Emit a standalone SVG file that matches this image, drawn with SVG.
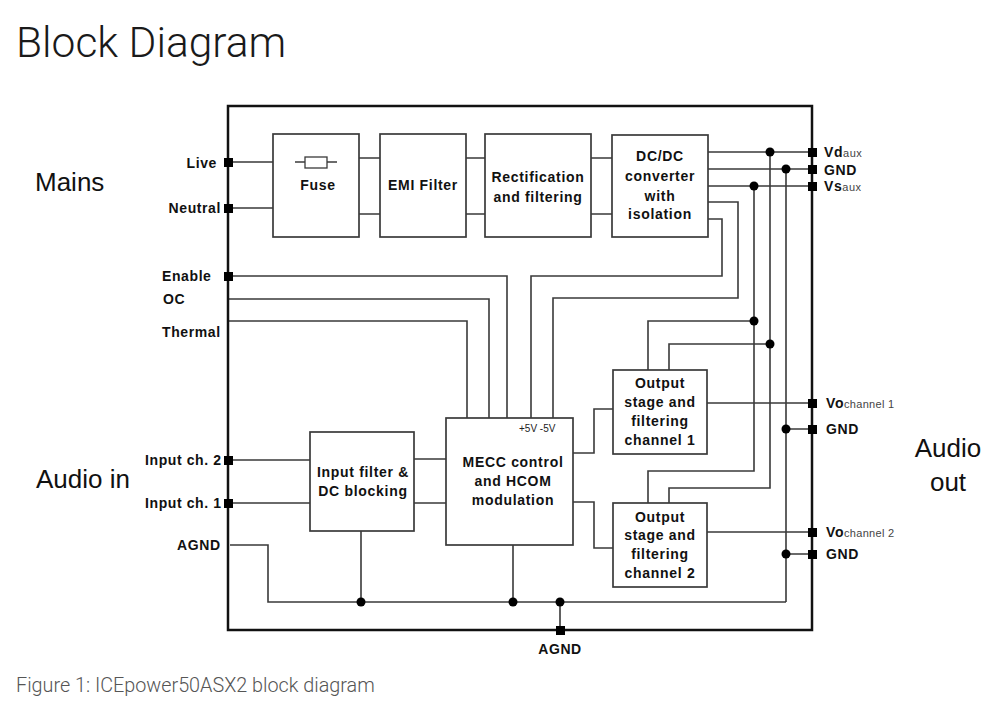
<svg xmlns="http://www.w3.org/2000/svg" width="1000" height="716" viewBox="0 0 1000 716">
<style>
.ln{fill:none;stroke:#3a3a3a;stroke-width:1.6}
.box{fill:#fff;stroke:#3a3a3a;stroke-width:1.7}
.bt{font-family:"Liberation Sans",Arial,sans-serif;font-weight:bold;font-size:14px;letter-spacing:0.7px;fill:#111;text-anchor:middle}
.lb{font-family:"Liberation Sans",Arial,sans-serif;font-weight:bold;font-size:14px;letter-spacing:0.6px;fill:#111}
.big{font-family:"Liberation Sans",Arial,sans-serif;font-size:26px;fill:#111}
.sub{font-family:"Liberation Sans",Arial,sans-serif;font-size:11px;fill:#444}
.pin{fill:#000}
.dot{fill:#000}
</style>
<rect width="1000" height="716" fill="#fff"/>
<text x="16" y="57" font-family="Roboto,'Liberation Sans',sans-serif" font-weight="300" font-size="42.5" fill="#1a1a1a">Block Diagram</text>
<text x="16" y="692" font-family="Roboto,'Liberation Sans',sans-serif" font-weight="300" font-size="19.8" fill="#555">Figure 1: ICEpower50ASX2 block diagram</text>

<text class="big" x="35" y="191">Mains</text>
<text class="big" x="36" y="488">Audio in</text>
<text class="big" x="948" y="457" text-anchor="middle">Audio</text>
<text class="big" x="948" y="491" text-anchor="middle">out</text>

<g id="connectors">
  <path class="ln" d="M228 162H273M228 208H273"/>
  <path class="ln" d="M359 158H380M359 214H380M466 158H485M466 214H485M591 158H612M591 214H612"/>
  <path class="ln" d="M708 152H812M708 169H812M708 186H812"/>
  <path class="ln" d="M708 202H738V298H553V418"/>
  <path class="ln" d="M708 219H722V276H531V418"/>
  <path class="ln" d="M228 276H507V418M228 299H489V418M228 321H467V418"/>
  <path class="ln" d="M754 186V471H648V503M770 152V488H669V503M786 169V602"/>
  <path class="ln" d="M754 321H648V370M770 344H669V370"/>
  <path class="ln" d="M228 460H310M228 503H310M414 459H446M414 503H446"/>
  <path class="ln" d="M573 453H594V409H613M573 502H594V548H613"/>
  <path class="ln" d="M707 403H812M707 532H812M786 429H812M786 554H812"/>
  <path class="ln" d="M230 545H268V602H786M361 531V602M513 545V602M560 602V630"/>
  <circle class="dot" cx="770" cy="152" r="4.5"/>
  <circle class="dot" cx="786" cy="169" r="4.5"/>
  <circle class="dot" cx="754" cy="186" r="4.5"/>
  <circle class="dot" cx="754" cy="321" r="4.5"/>
  <circle class="dot" cx="770" cy="344" r="4.5"/>
  <circle class="dot" cx="786" cy="429" r="4.5"/>
  <circle class="dot" cx="786" cy="554" r="4.5"/>
  <circle class="dot" cx="361" cy="602" r="4.5"/>
  <circle class="dot" cx="513" cy="602" r="4.5"/>
  <circle class="dot" cx="560" cy="602" r="4.5"/>
</g>

<g id="module">
  <rect x="228" y="106" width="584" height="524" fill="none" stroke="#111" stroke-width="2.5"/>
</g>

<g id="fuse">
  <rect class="box" x="273" y="134" width="86" height="103"/>
  <path class="ln" d="M295 162H337"/>
  <rect x="305" y="157" width="22" height="11" fill="#fff" stroke="#3a3a3a" stroke-width="1.3"/>
  <text class="bt" x="318" y="190">Fuse</text>
</g>
<g id="emi">
  <rect class="box" x="380" y="134" width="86" height="103"/>
  <text class="bt" x="423" y="190">EMI Filter</text>
</g>
<g id="rect">
  <rect class="box" x="485" y="134" width="106" height="103"/>
  <text class="bt" x="538" y="182">Rectification</text>
  <text class="bt" x="538" y="202">and filtering</text>
</g>
<g id="dcdc">
  <rect class="box" x="612" y="135" width="96" height="102"/>
  <text class="bt" x="660" y="161">DC/DC</text>
  <text class="bt" x="660" y="181">converter</text>
  <text class="bt" x="660" y="201">with</text>
  <text class="bt" x="660" y="219">isolation</text>
</g>
<g id="inputfilter">
  <rect class="box" x="310" y="432" width="104" height="99"/>
  <text class="bt" x="363" y="477">Input filter &amp;</text>
  <text class="bt" x="363" y="496">DC blocking</text>
</g>
<g id="mecc">
  <rect class="box" x="446" y="418" width="127" height="127"/>
  <text x="519" y="432" font-family="'Liberation Sans',Arial,sans-serif" font-size="10" fill="#222">+5V  -5V</text>
  <text class="bt" x="513" y="467">MECC control</text>
  <text class="bt" x="513" y="486">and HCOM</text>
  <text class="bt" x="513" y="505">modulation</text>
</g>
<g id="out1">
  <rect class="box" x="613" y="370" width="94" height="84"/>
  <text class="bt" x="660" y="388">Output</text>
  <text class="bt" x="660" y="407">stage and</text>
  <text class="bt" x="660" y="426">filtering</text>
  <text class="bt" x="660" y="445">channel 1</text>
</g>
<g id="out2">
  <rect class="box" x="613" y="503" width="94" height="84"/>
  <text class="bt" x="660" y="522">Output</text>
  <text class="bt" x="660" y="540">stage and</text>
  <text class="bt" x="660" y="559">filtering</text>
  <text class="bt" x="660" y="578">channel 2</text>
</g>

<g id="pins">
  <rect class="pin" x="224" y="158" width="9" height="9"/>
  <rect class="pin" x="224" y="204" width="9" height="9"/>
  <rect class="pin" x="224" y="272" width="9" height="9"/>
  <rect class="pin" x="224" y="456" width="9" height="9"/>
  <rect class="pin" x="224" y="499" width="9" height="9"/>
  <rect class="pin" x="808" y="148" width="9" height="9"/>
  <rect class="pin" x="808" y="165" width="9" height="9"/>
  <rect class="pin" x="808" y="182" width="9" height="9"/>
  <rect class="pin" x="808" y="399" width="9" height="9"/>
  <rect class="pin" x="808" y="425" width="9" height="9"/>
  <rect class="pin" x="808" y="528" width="9" height="9"/>
  <rect class="pin" x="808" y="550" width="9" height="9"/>
  <rect class="pin" x="556" y="626" width="9" height="9"/>
</g>

<g id="labels">
  <text class="lb" x="217" y="168" text-anchor="end">Live</text>
  <text class="lb" x="221" y="213" text-anchor="end">Neutral</text>
  <text class="lb" x="162" y="281">Enable</text>
  <text class="lb" x="163" y="304">OC</text>
  <text class="lb" x="162" y="337">Thermal</text>
  <text class="lb" x="145" y="465">Input ch. 2</text>
  <text class="lb" x="145" y="508">Input ch. 1</text>
  <text class="lb" x="177" y="550">AGND</text>
  <text class="lb" x="560" y="654" text-anchor="middle">AGND</text>
  <text class="lb" x="824" y="157">Vd<tspan class="sub" font-weight="normal" letter-spacing="0.5">aux</tspan></text>
  <text class="lb" x="824" y="175">GND</text>
  <text class="lb" x="824" y="191">Vs<tspan class="sub" font-weight="normal" letter-spacing="0.5">aux</tspan></text>
  <text class="lb" x="826" y="408">Vo<tspan class="sub" font-weight="normal" font-size="10" letter-spacing="0.3">channel 1</tspan></text>
  <text class="lb" x="826" y="434">GND</text>
  <text class="lb" x="826" y="537">Vo<tspan class="sub" font-weight="normal" font-size="10" letter-spacing="0.3">channel 2</tspan></text>
  <text class="lb" x="826" y="559">GND</text>
</g>
</svg>
